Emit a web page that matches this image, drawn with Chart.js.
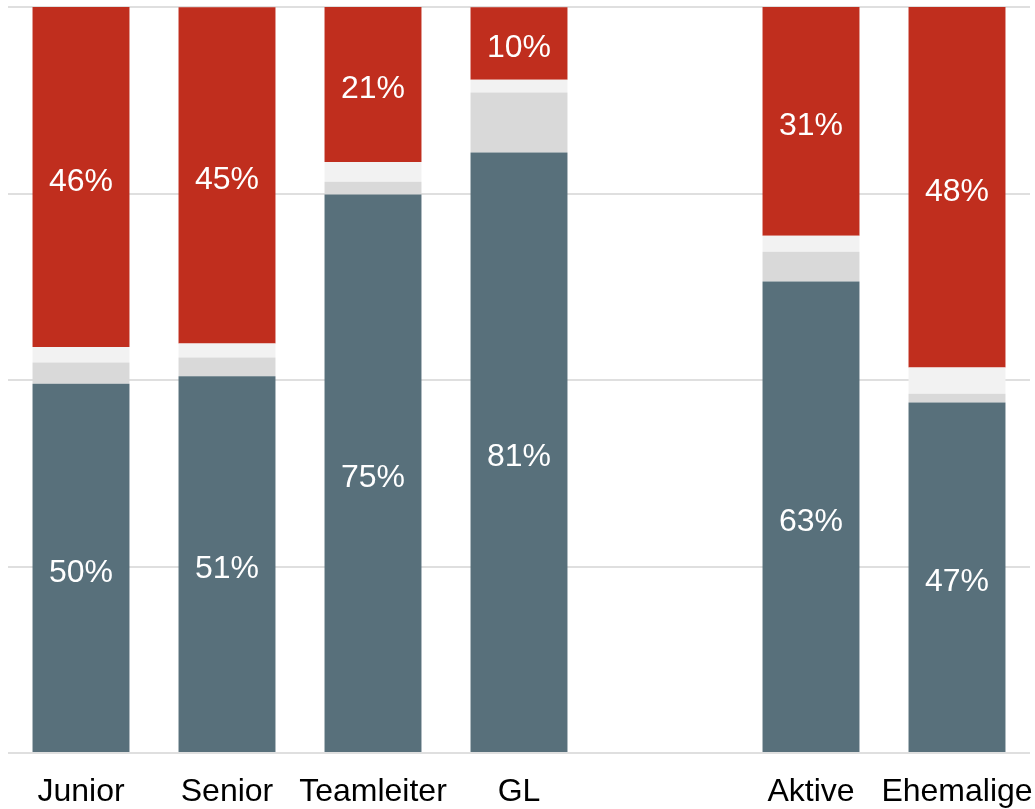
<!DOCTYPE html>
<html>
<head>
<meta charset="utf-8">
<script src="https://cdn.jsdelivr.net/npm/chart.js@4.4.0/dist/chart.umd.min.js"></script>
<style>
  html, body { margin: 0; padding: 0; background: #ffffff; }
  #wrap { width: 1035px; height: 809px; }
</style>
</head>
<body>
<div id="wrap"><canvas id="chart" width="1035" height="809"></canvas></div>
<script>
// Categories (empty slot = gap between GL and Aktive)
const categories = ["Junior", "Senior", "Teamleiter", "GL", "", "Aktive", "Ehemalige"];

// Shares in percent, bottom to top
const positiv = [49.5, 50.5, 74.85, 80.5, null, 63.2, 47.0];
const neutral = [2.86, 2.5, 1.74, 8.05, null, 4.0, 1.17];
const keineAngabe = [2.07, 1.88, 2.64, 1.7, null, 2.15, 3.49];
const negativ = [45.6, 45.1, 20.8, 9.7, null, 30.65, 48.36];

const yTicks = [0, 25, 50, 75, 100];

const fontFamily = "'Liberation Sans', Arial, sans-serif";

// Draw the white percentage labels in the blue and red segments
const segmentLabels = {
    id: 'segmentLabels',
    afterDatasetsDraw(chart) {
        const ctx = chart.ctx;
        ctx.save();
        ctx.fillStyle = '#ffffff';
        ctx.font = '32px ' + fontFamily;
        ctx.textAlign = 'center';
        ctx.textBaseline = 'middle';
        [0, 3].forEach(dsIndex => {
            const meta = chart.getDatasetMeta(dsIndex);
            meta.data.forEach((bar, i) => {
                const value = chart.data.datasets[dsIndex].data[i];
                if (value == null) return;
                const props = bar.getProps(['x', 'y', 'base'], true);
                const yMid = (props.y + props.base) / 2 + 5;
                ctx.fillText(Math.round(value) + '%', props.x, yMid);
            });
        });
        ctx.restore();
    }
};

const ctx = document.getElementById('chart').getContext('2d');

new Chart(ctx, {
    type: 'bar',
    data: {
        labels: categories,
        datasets: [
            { label: 'positiv', data: positiv, backgroundColor: '#58707b' },
            { label: 'neutral', data: neutral, backgroundColor: '#d9d9d9' },
            { label: 'keine Angabe', data: keineAngabe, backgroundColor: '#f2f2f2' },
            { label: 'negativ', data: negativ, backgroundColor: '#c02e1e' }
        ]
    },
    options: {
        responsive: false,
        animation: false,
        datasets: {
            bar: {
                categoryPercentage: 1,
                barPercentage: 0.664,
                borderWidth: 0
            }
        },
        layout: {
            padding: { left: 8, right: 5, top: 7, bottom: 0 }
        },
        plugins: {
            legend: { display: false },
            tooltip: { enabled: false }
        },
        scales: {
            x: {
                stacked: true,
                grid: { display: false, drawTicks: false },
                border: { display: false },
                ticks: {
                    color: '#000000',
                    font: { family: fontFamily, size: 32, lineHeight: 1.25 },
                    padding: 19,
                    maxRotation: 0,
                    autoSkip: false
                },
                // keep the long last label from shrinking the plot, fix axis height
                afterFit: scale => {
                    scale.paddingLeft = 0;
                    scale.paddingRight = 0;
                    scale.height = 56;
                }
            },
            y: {
                stacked: true,
                min: 0,
                max: 100,
                afterBuildTicks: axis => {
                    axis.ticks = yTicks.map(v => ({ value: v }));
                },
                grid: { color: '#dfdfdf', lineWidth: 2, drawTicks: false },
                border: { display: false },
                ticks: { display: false }
            }
        }
    },
    plugins: [segmentLabels]
});
</script>
</body>
</html>
